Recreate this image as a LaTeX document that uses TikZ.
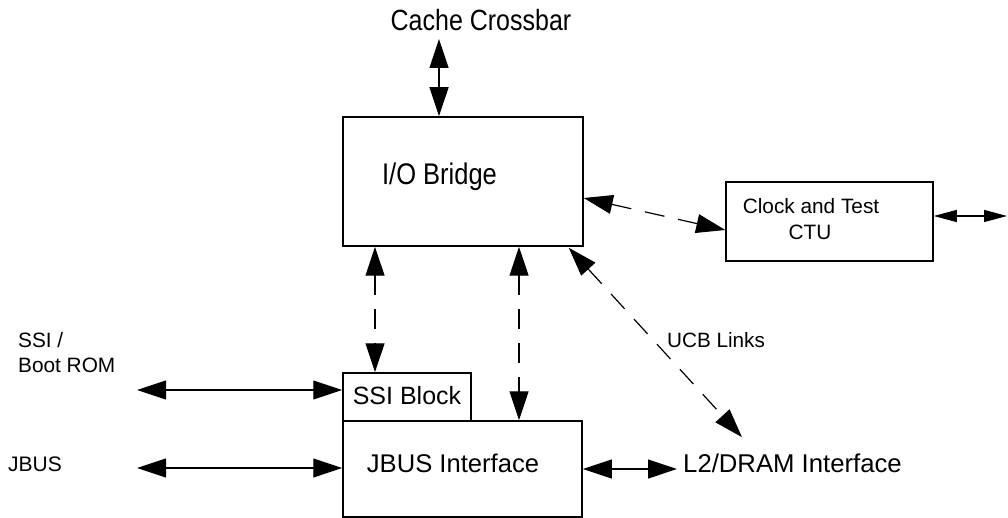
\documentclass[tikz,border=0pt]{standalone}
\usepackage{fontspec}
\setmainfont{Liberation Sans}
\usepackage{graphicx}
\usetikzlibrary{arrows.meta}
\newcommand{\tallfont}[1]{\scalebox{1}[1.17]{#1}}

\begin{document}
\begin{tikzpicture}[
    x=1pt, y=-1pt,
    box/.style={draw, line width=1.5pt, inner sep=0pt},
    lbl/.style={inner sep=0pt, anchor=base},
    link/.style={{Triangle[length=29pt,width=19pt]}-{Triangle[length=29pt,width=19pt]},
                 line width=1.2pt},
    dlink/.style={link, dash pattern=on 20pt off 14pt},
    slink/.style={{Triangle[length=23pt,width=12pt]}-{Triangle[length=23pt,width=12pt]},
                  line width=1.2pt},
  ]
    \useasboundingbox (0,0) rectangle (1008,518);

    % Blocks -----------------------------------------------------------------
    \node[box, minimum width=240pt, minimum height=129pt] (iob)  at (463,181.5) {};
    \node[box, minimum width=207pt, minimum height=79pt]  (ctu)  at (829.5,221.5) {};
    \node[box, minimum width=128pt, minimum height=48pt]  (ssi)  at (407,397) {};
    \node[box, minimum width=239pt, minimum height=96pt]  (jbus) at (462.5,469) {};

    % Labels -----------------------------------------------------------------
    \node[lbl, font=\fontsize{25}{30}\selectfont]   (cache)   at (481,31)    {\tallfont{Cache Crossbar}};
    \node[lbl, font=\fontsize{25.5}{30}\selectfont] (iobtxt)  at (439.5,185) {\tallfont{I/O Bridge}};
    \node[lbl, font=\fontsize{20.8}{25}\selectfont] (ctutxt)  at (811,214)   {Clock and Test};
    \node[lbl, font=\fontsize{20.8}{25}\selectfont] (ctuname) at (810,240)   {CTU};
    \node[lbl, font=\fontsize{25}{30}\selectfont]   (ssitxt)  at (407,404)   {SSI Block};
    \node[lbl, font=\fontsize{25.6}{30}\selectfont] (jbustxt) at (453,472)   {JBUS Interface};
    \node[lbl, font=\fontsize{20.7}{25}\selectfont] (ucb)     at (716,347)   {UCB Links};
    \node[lbl, anchor=base west, font=\fontsize{25.7}{30}\selectfont] (l2) at (683,472) {L2/DRAM Interface};
    \node[lbl, anchor=base west, align=left, font=\fontsize{20.8}{25}\selectfont] (bootrom) at (18,372) {SSI /\\Boot ROM};
    \node[lbl, anchor=base west, font=\fontsize{21}{25}\selectfont] (jbusin) at (8,471) {JBUS};

    % Free ends --------------------------------------------------------------
    \coordinate (xbarend) at (439,39);
    \coordinate (ctuend)  at (1007,216);
    \coordinate (romend)  at (137,390);
    \coordinate (jbusend) at (137,468);

    % Arrows -----------------------------------------------------------------
    \draw[link]  (xbarend) -- (xbarend |- iob.north);
    \draw[dlink] ([yshift=-16.5pt]iob.east) -- ([yshift=-8.5pt]ctu.west);
    \draw[slink] ([yshift=5.5pt]ctu.east) -- (ctuend);
    \draw[dlink] ([xshift=-32pt]ssi.north |- iob.south) -- ([xshift=-32pt]ssi.north);
    \draw[dlink] ([xshift=56.5pt]jbus.north |- iob.south) -- ([xshift=56.5pt]jbus.north);
    \draw[dlink] ([xshift=-15pt,yshift=-1pt]iob.south east) -- ([xshift=59pt,yshift=16pt]l2.north west);
    \draw[link]  (romend) -- (romend -| ssi.west);
    \draw[link]  (jbusend) -- (jbusend -| jbus.west);
    \draw[link]  (jbus.east) -- ([xshift=-6pt]jbus.east -| l2.west);
  \end{tikzpicture}
\end{document}
